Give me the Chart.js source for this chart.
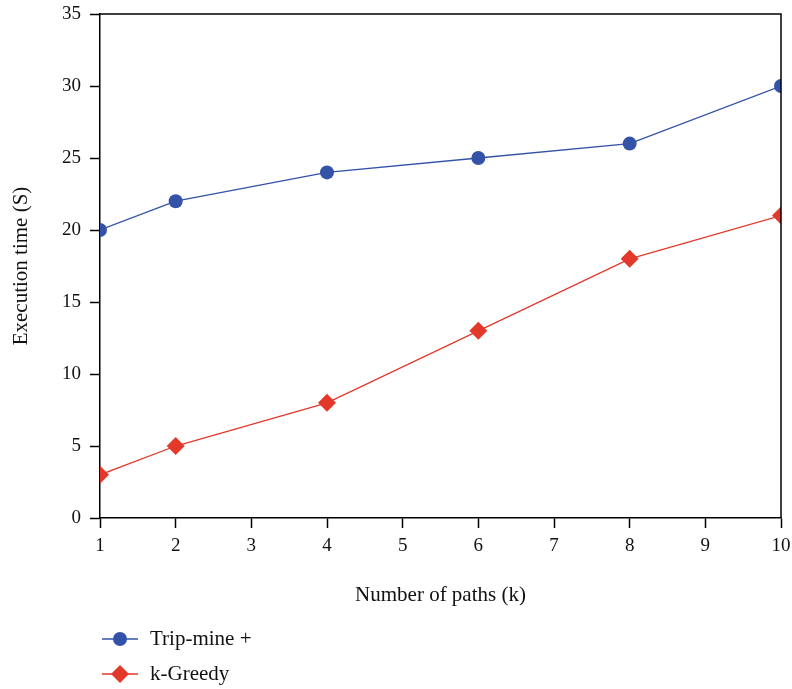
<!DOCTYPE html>
<html>
<head>
<meta charset="utf-8">
<script src="https://cdn.jsdelivr.net/npm/chart.js@4/dist/chart.umd.min.js"></script>
<style>
  body { margin: 0; background: #fff; }
  #wrap { width: 792px; height: 689px; position: relative; }
</style>
</head>
<body>
<div id="wrap"><canvas id="c"></canvas></div>
<script>
var paths = [1, 2, 4, 6, 8, 10];
var tripMine = [20, 22, 24, 25, 26, 30];
var kGreedy = [3, 5, 8, 13, 18, 21];
var xTicks = [1, 2, 3, 4, 5, 6, 7, 8, 9, 10];
var yTicks = [0, 5, 10, 15, 20, 25, 30, 35];

var serif = "'Liberation Serif', 'DejaVu Serif', serif";

function toPoints(ys) {
    return paths.map(function (x, i) { return { x: x, y: ys[i] }; });
}

// top + right frame lines and bottom legend
var framePlugin = {
    id: 'frame',
    afterDraw: function (chart) {
        var ctx = chart.ctx;
        var a = chart.chartArea;
        ctx.save();
        ctx.strokeStyle = '#000';
        ctx.lineWidth = 1.5;
        ctx.beginPath();
        ctx.moveTo(a.left, a.top);
        ctx.lineTo(a.right, a.top);
        ctx.lineTo(a.right, a.bottom);
        ctx.stroke();

        // legend
        var rows = [639, 674];
        chart.data.datasets.forEach(function (ds, i) {
            var y = rows[i];
            ctx.strokeStyle = ds.borderColor;
            ctx.lineWidth = 1.4;
            ctx.beginPath();
            ctx.moveTo(102, y);
            ctx.lineTo(138, y);
            ctx.stroke();
            ctx.fillStyle = ds.backgroundColor;
            ctx.beginPath();
            if (ds.pointStyle === 'circle') {
                ctx.arc(120, y, ds.pointRadius, 0, Math.PI * 2);
            } else {
                var r = ds.pointRadius;
                ctx.moveTo(120, y - r);
                ctx.lineTo(120 + r, y);
                ctx.lineTo(120, y + r);
                ctx.lineTo(120 - r, y);
                ctx.closePath();
            }
            ctx.fill();
            ctx.fillStyle = '#111';
            ctx.font = '21px ' + serif;
            ctx.textBaseline = 'middle';
            ctx.textAlign = 'left';
            ctx.fillText(ds.label, 150, y);
        });
        ctx.restore();
    }
};

var ctx = document.getElementById('c').getContext('2d');
new Chart(ctx, {
    type: 'line',
    data: {
        datasets: [
            {
                label: 'Trip-mine +',
                data: toPoints(tripMine),
                borderColor: '#3352a8',
                backgroundColor: '#3352a8',
                borderWidth: 1.3,
                pointStyle: 'circle',
                pointRadius: 7,
                pointBorderWidth: 0,
                clip: 0
            },
            {
                label: 'k-Greedy',
                data: toPoints(kGreedy),
                borderColor: '#e3392b',
                backgroundColor: '#e3392b',
                borderWidth: 1.3,
                pointStyle: 'rectRot',
                pointRadius: 9,
                pointBorderWidth: 0,
                clip: 0
            }
        ]
    },
    options: {
        responsive: true,
        maintainAspectRatio: false,
        animation: false,
        layout: { padding: { left: 0, right: 11, top: 14, bottom: 77 } },
        plugins: {
            legend: { display: false },
            tooltip: { enabled: false }
        },
        scales: {
            x: {
                type: 'linear',
                min: 1,
                max: 10,
                afterBuildTicks: function (s) {
                    s.ticks = xTicks.map(function (v) { return { value: v }; });
                },
                afterFit: function (s) {
                    s.height = 94;
                    s.paddingLeft = 0;
                    s.paddingRight = 0;
                },
                grid: { drawOnChartArea: false, tickLength: 10, tickColor: '#000', tickWidth: 1.5 },
                border: { color: '#000', width: 1.5 },
                ticks: { color: '#111', font: { family: serif, size: 19 }, padding: 7, maxRotation: 0 },
                title: {
                    display: true,
                    text: 'Number of paths (k)',
                    color: '#111',
                    font: { family: serif, size: 21 },
                    padding: { top: 21 }
                }
            },
            y: {
                min: 0,
                max: 35,
                afterBuildTicks: function (s) {
                    s.ticks = yTicks.map(function (v) { return { value: v }; });
                },
                afterFit: function (s) {
                    s.width = 100;
                    s.paddingTop = 0;
                    s.paddingBottom = 0;
                },
                grid: { drawOnChartArea: false, tickLength: 10, tickColor: '#000', tickWidth: 1.5 },
                border: { color: '#000', width: 1.5 },
                ticks: { color: '#111', font: { family: serif, size: 19 }, padding: 9 },
                title: {
                    display: true,
                    text: 'Execution time (S)',
                    color: '#111',
                    font: { family: serif, size: 21 },
                    padding: { top: 9 }
                }
            }
        }
    },
    plugins: [framePlugin]
});
</script>
</body>
</html>
